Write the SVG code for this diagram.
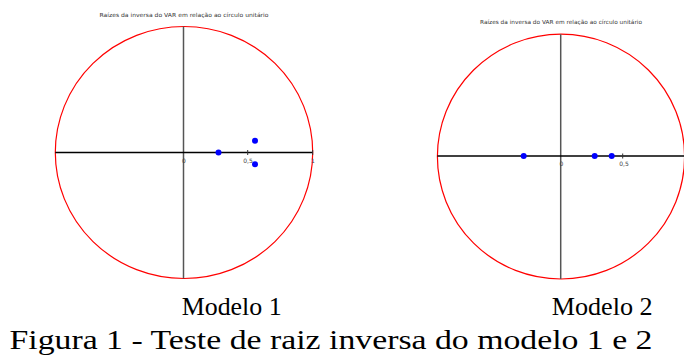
<svg xmlns="http://www.w3.org/2000/svg" width="684" height="358" viewBox="0 0 684 358">
<style>
.circ{fill:none;stroke:#ff0000;stroke-width:1.2}
.hax{stroke:#000;stroke-width:1.3}
.vax{stroke:#555;stroke-width:1.5}
.tick{stroke:#333;stroke-width:1}
.dot{fill:#0000ff}
.tl{font-family:"DejaVu Sans",sans-serif;font-size:6px;fill:#444;text-anchor:middle}
.title{font-family:"DejaVu Sans",sans-serif;font-size:5.6px;fill:#333;text-anchor:middle}
.cap{font-family:'Liberation Serif','Tinos','Nimbus Roman','Nimbus Roman No9 L','Times New Roman','FreeSerif','Noto Serif',serif;fill:#000}
</style>
<rect width="684" height="358" fill="#fff"/>
<g id="plot1">
<text class="title" x="184" y="17" textLength="169" lengthAdjust="spacingAndGlyphs">Raízes da inversa do VAR em relação ao círculo unitário</text>
<ellipse class="circ" cx="184" cy="152.5" rx="128.7" ry="126"/>
<line class="vax" x1="183.5" y1="26.5" x2="183.5" y2="278.5"/>
<line class="hax" x1="55.3" y1="152.5" x2="312.7" y2="152.5"/>
<line class="tick" x1="247.7" y1="150" x2="247.7" y2="155"/>
<line class="tick" x1="312.7" y1="150" x2="312.7" y2="155"/>
<text class="tl" x="184" y="163">0</text>
<text class="tl" x="248" y="163">0,5</text>
<text class="tl" x="313" y="163">1</text>
<circle class="dot" cx="218.5" cy="152.5" r="3"/>
<circle class="dot" cx="255" cy="140.7" r="3"/>
<circle class="dot" cx="255" cy="164.3" r="3"/>
</g>
<g id="plot2">
<text class="title" x="561" y="23.5" textLength="162" lengthAdjust="spacingAndGlyphs">Raízes da inversa do VAR em relação ao círculo unitário</text>
<ellipse class="circ" cx="561" cy="156.6" rx="123.6" ry="122.4"/>
<line class="vax" x1="560.7" y1="34.3" x2="560.7" y2="279"/>
<line class="hax" x1="437.4" y1="156" x2="684" y2="156"/>
<line class="tick" x1="622.7" y1="153.5" x2="622.7" y2="158.5"/>
<text class="tl" x="561.5" y="166">0</text>
<text class="tl" x="624" y="166">0,5</text>
<circle class="dot" cx="523.7" cy="156" r="3"/>
<circle class="dot" cx="594.7" cy="156" r="3"/>
<circle class="dot" cx="611.7" cy="156" r="3"/>
</g>
<g id="captions">
<text class="cap" x="181.7" y="315" font-size="26" textLength="100" lengthAdjust="spacingAndGlyphs">Modelo 1</text>
<text class="cap" x="551.7" y="315" font-size="26" textLength="101" lengthAdjust="spacingAndGlyphs">Modelo 2</text>
<text class="cap" x="9.5" y="349" font-size="28" textLength="643" lengthAdjust="spacingAndGlyphs">Figura 1 - Teste de raiz inversa do modelo 1 e 2</text>
</g>
</svg>
